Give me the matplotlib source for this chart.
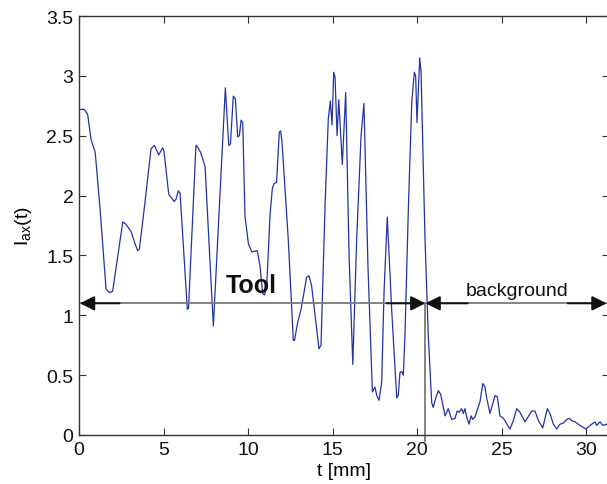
import numpy as np
import matplotlib
matplotlib.use("Agg")
import matplotlib.pyplot as plt

# ==========================================
# Data
# ==========================================
t_mm = [0.02, 0.31, 0.51, 0.71, 0.96, 1.24, 1.60, 1.79, 1.99, 2.25,
        2.59, 2.78, 3.08, 3.31, 3.47, 3.57, 3.91, 4.26, 4.46, 4.72,
        4.95, 5.03, 5.31, 5.64, 5.74, 5.88, 5.98, 6.41, 6.48, 6.92,
        7.04, 7.20, 7.46, 7.95, 8.66, 8.86, 8.96, 9.13, 9.25, 9.39,
        9.49, 9.59, 9.69, 9.82, 10.02, 10.22, 10.55, 10.71, 10.87, 10.98,
        11.11, 11.30, 11.44, 11.54, 11.69, 11.85, 11.93, 12.01, 12.38, 12.68,
        12.75, 12.94, 13.14, 13.47, 13.61, 13.76, 14.20, 14.32, 14.56, 14.75,
        14.87, 14.97, 15.07, 15.15, 15.27, 15.37, 15.58, 15.78, 15.98, 16.20,
        16.43, 16.69, 16.86, 17.10, 17.36, 17.51, 17.62, 17.75, 17.91, 18.05,
        18.24, 18.50, 18.80, 18.89, 18.99, 19.09, 19.19, 19.29, 19.49, 19.69,
        19.84, 19.92, 20.00, 20.16, 20.24, 20.47, 20.67, 20.87, 20.96, 21.09,
        21.26, 21.40, 21.66, 21.85, 22.05, 22.25, 22.38, 22.50, 22.64, 22.74,
        22.84, 22.94, 23.08, 23.20, 23.30, 23.43, 23.57, 23.73, 23.89, 24.02,
        24.12, 24.32, 24.62, 24.75, 24.91, 25.11, 25.50, 25.70, 25.90, 26.09,
        26.39, 26.79, 26.98, 27.18, 27.44, 27.71, 27.87, 28.07, 28.27, 28.46,
        28.66, 28.86, 29.01, 29.15, 29.35, 29.64, 30.00, 30.24, 30.53, 30.63,
        30.83, 30.99, 31.22]
i_ax = [2.72, 2.72, 2.68, 2.47, 2.36, 1.90, 1.22, 1.19, 1.20, 1.45,
        1.78, 1.76, 1.70, 1.60, 1.54, 1.55, 1.95, 2.39, 2.42, 2.34,
        2.40, 2.37, 2.01, 1.95, 1.97, 2.04, 2.02, 1.05, 1.06, 2.42,
        2.40, 2.36, 2.24, 0.91, 2.90, 2.42, 2.43, 2.83, 2.81, 2.49,
        2.50, 2.63, 2.61, 1.83, 1.60, 1.53, 1.54, 1.41, 1.18, 1.17,
        1.25, 1.83, 2.06, 2.10, 2.11, 2.53, 2.54, 2.45, 1.64, 0.79,
        0.79, 0.94, 1.05, 1.32, 1.33, 1.25, 0.72, 0.75, 1.92, 2.64,
        2.79, 2.59, 3.03, 2.99, 2.50, 2.80, 2.26, 2.86, 1.50, 0.59,
        1.64, 2.50, 2.77, 1.40, 0.36, 0.40, 0.33, 0.29, 0.44, 1.20,
        1.82, 1.05, 0.31, 0.33, 0.52, 0.53, 0.50, 0.85, 1.90, 2.78,
        3.03, 3.00, 2.61, 3.15, 3.03, 1.65, 0.82, 0.27, 0.23, 0.30,
        0.37, 0.34, 0.16, 0.22, 0.13, 0.14, 0.20, 0.19, 0.22, 0.18,
        0.22, 0.15, 0.09, 0.16, 0.13, 0.15, 0.21, 0.28, 0.43, 0.40,
        0.31, 0.18, 0.33, 0.32, 0.16, 0.14, 0.05, 0.12, 0.22, 0.19,
        0.11, 0.20, 0.20, 0.12, 0.06, 0.22, 0.18, 0.09, 0.05, 0.09,
        0.10, 0.13, 0.14, 0.12, 0.11, 0.08, 0.05, 0.08, 0.11, 0.08,
        0.11, 0.08, 0.09]

x_ticks = [0, 5, 10, 15, 20, 25, 30]
y_ticks = [0, 0.5, 1, 1.5, 2, 2.5, 3, 3.5]
y_tick_labels = ["0", "0.5", "1", "1.5", "2", "2.5", "3", "3.5"]

arrow_level = 1.1
boundary = 20.5
t_end = 31.22

# ==========================================
# Figure
# ==========================================
plt.rcParams['font.family'] = ['Liberation Sans', 'DejaVu Sans']
plt.rcParams['mathtext.default'] = 'regular'

fig = plt.figure(figsize=(6.07, 4.85), dpi=100)
ax = fig.add_axes([79 / 607, 49 / 485, 530 / 607, 419 / 485])

ax.plot(t_mm, i_ax, color='#2233a8', lw=0.9)

# double arrows: grey shaft, black heads
ax.plot([0, t_end], [arrow_level, arrow_level], color='#7a7a7a', lw=1.3)
ax.plot([boundary, boundary], [-0.05, arrow_level], color='#7a7a7a', lw=1.3, clip_on=False)
head = dict(arrowstyle='-|>', color='#111111', lw=1.4, mutation_scale=22, shrinkA=0, shrinkB=0)
ax.annotate('', xy=(0.05, arrow_level), xytext=(2.4, arrow_level), arrowprops=head)
ax.annotate('', xy=(boundary, arrow_level), xytext=(boundary - 2.3, arrow_level), arrowprops=head)
ax.annotate('', xy=(boundary, arrow_level), xytext=(boundary + 2.5, arrow_level), arrowprops=head)
ax.annotate('', xy=(t_end, arrow_level), xytext=(t_end - 2.3, arrow_level), arrowprops=head)

ax.text(10.2, 1.25, 'Tool', fontsize=18, fontweight='bold', ha='center', va='center', color='#111111')
ax.text(25.9, 1.21, 'background', fontsize=14, ha='center', va='center', color='#111111')

ax.set_xlim(0, 31.36)
ax.set_ylim(0, 3.5)
ax.set_xticks(x_ticks)
ax.set_yticks(y_ticks)
ax.set_yticklabels(y_tick_labels)
ax.tick_params(direction='in', length=5, width=0.8, top=True, right=True,
               labelsize=14, colors='#333333', labelcolor='#111111', pad=4)
for s in ax.spines.values():
    s.set_color('#333333')
    s.set_linewidth(1.0)

ax.set_xlabel('t [mm]', fontsize=14, labelpad=3)
ax.set_ylabel('I$_{ax}$(t)', fontsize=14, labelpad=9)

fig.savefig('out.png', dpi=100)
